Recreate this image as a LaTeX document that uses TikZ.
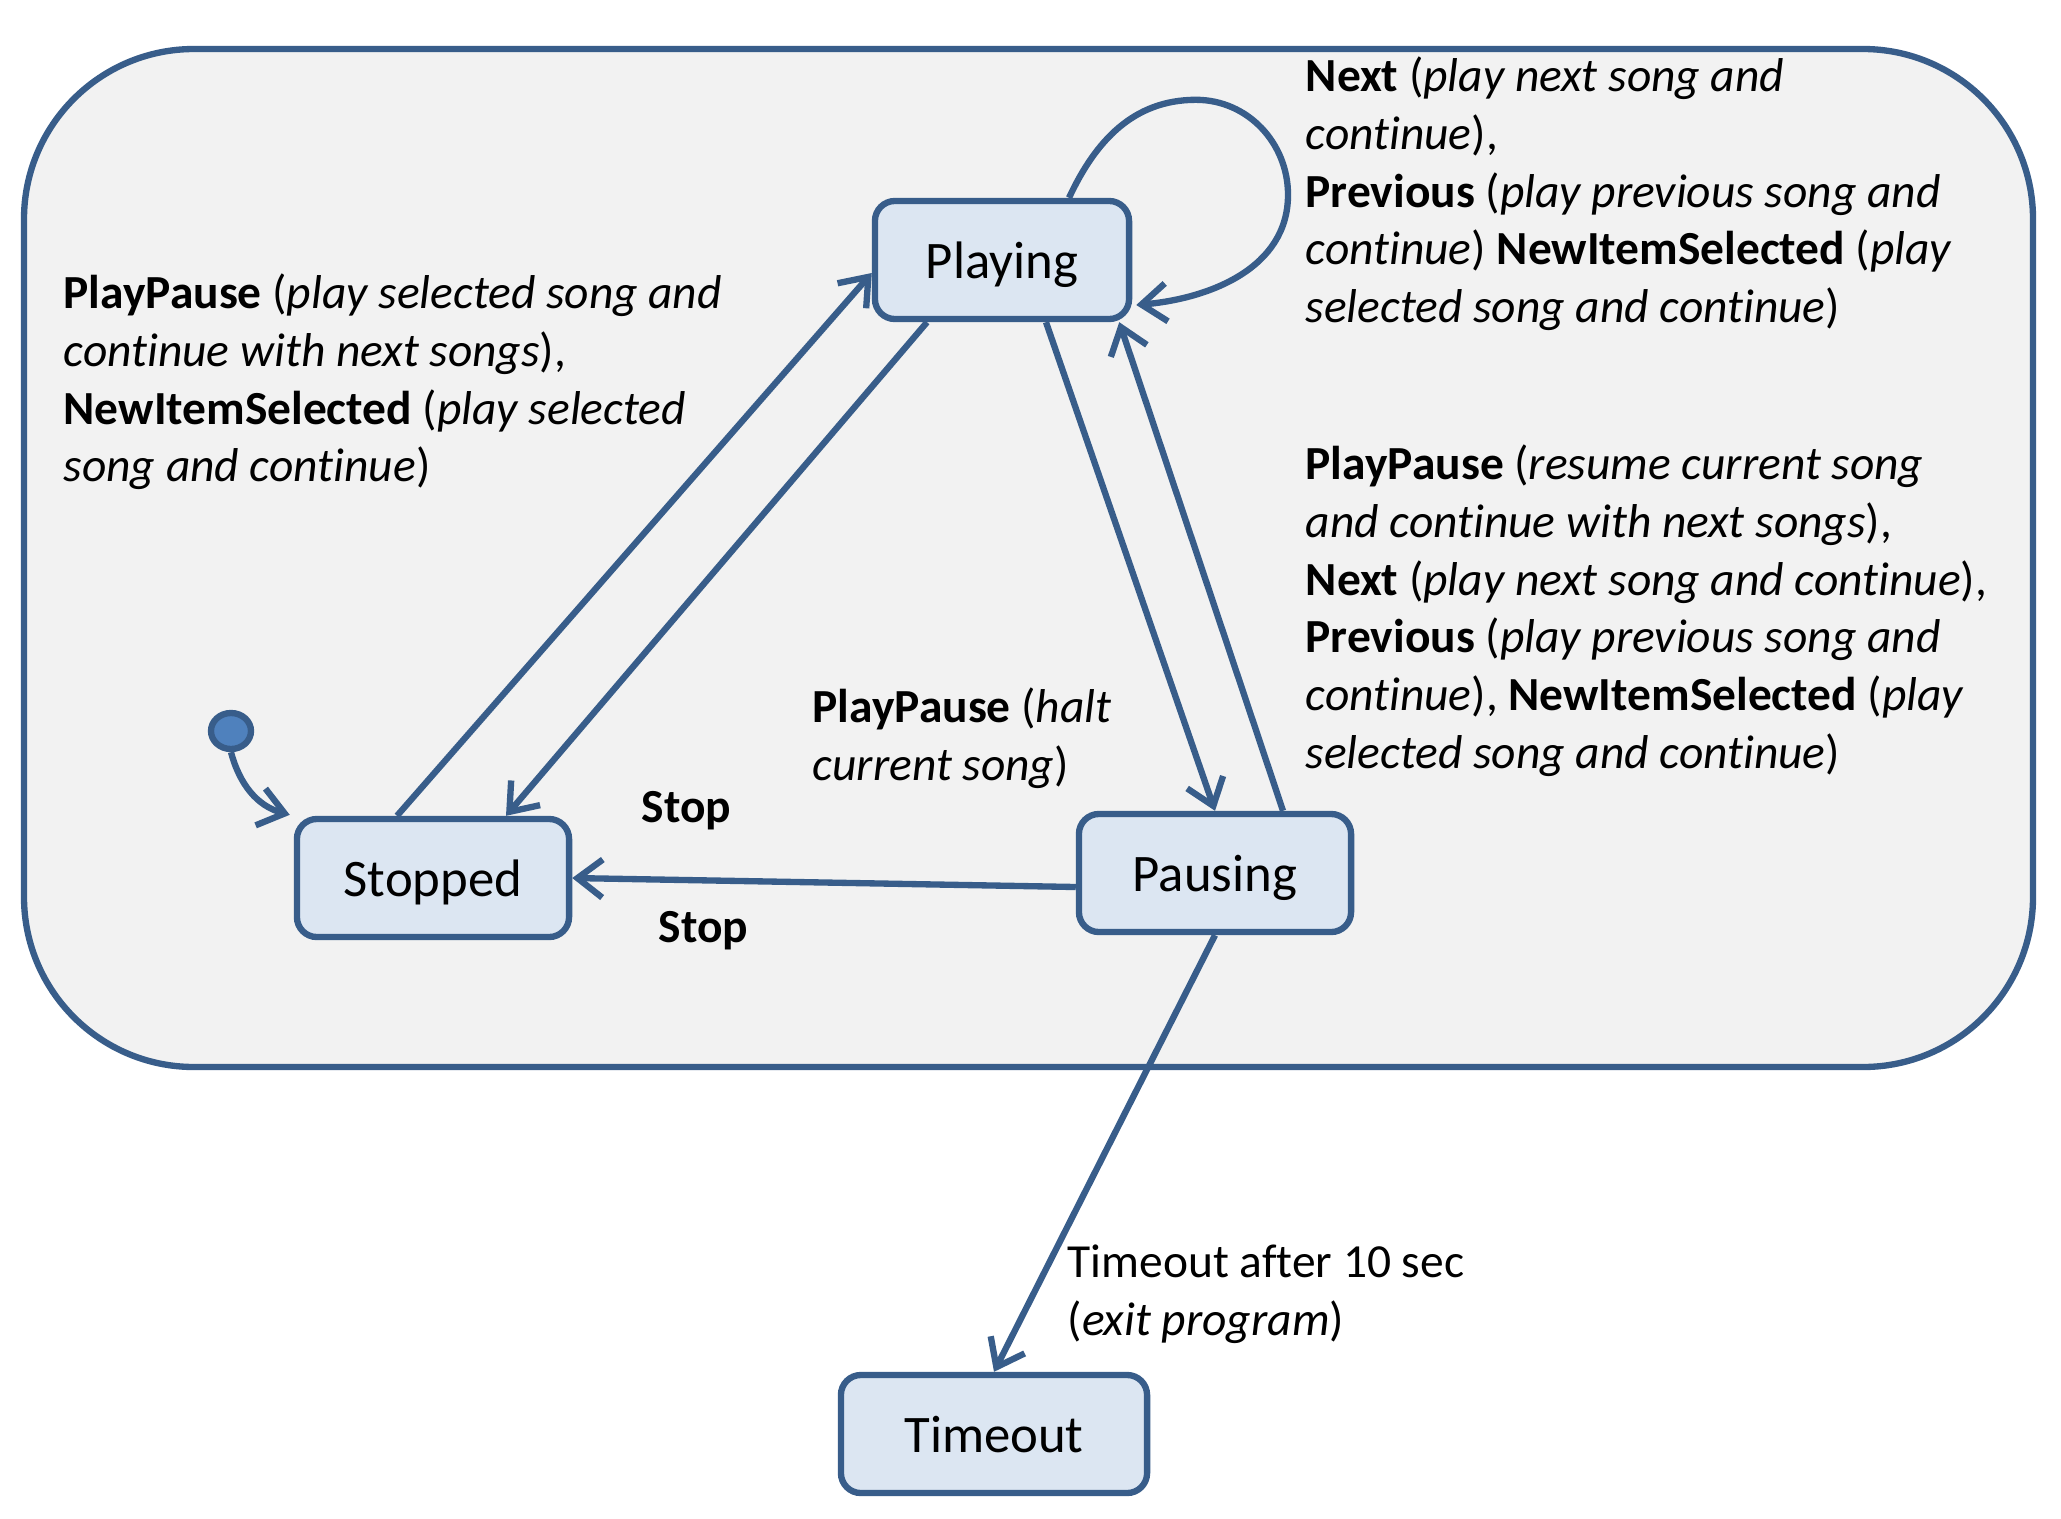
\documentclass[tikz,border=0pt]{standalone}
\usepackage{fontspec}
\setmainfont{Carlito}[Ligatures=NoCommon]
\usetikzlibrary{arrows.meta,shapes.geometric,positioning,calc}
\definecolor{stateline}{RGB}{56,93,138}
\definecolor{statefill}{RGB}{220,230,242}
\definecolor{framefill}{RGB}{242,242,242}
\definecolor{dotfill}{RGB}{79,129,189}
\tikzset{
    state/.style={
        rectangle,
        rounded corners=0.2cm,
        draw=stateline,
        fill=statefill,
        line width=1.8pt,
        minimum height=1.18cm,
        text depth=0pt,
        text centered,
        font=\fontsize{15}{18}\selectfont
    },
    trans/.style={
        -{Straight Barb[length=2.5mm,width=3.8mm]},
        draw=stateline,
        line width=1.8pt
    },
    lbl/.style={
        anchor=north west,
        inner sep=0pt,
        align=left,
        font=\fontsize{13.5}{16.45}\selectfont
    }
}

\begin{document}
\begin{tikzpicture}[x=0.01cm,y=-0.01cm]
\useasboundingbox (0,0) rectangle (2061,1518);
\fill[white] (0,0) rectangle (2061,1518);

% Frame
\draw[draw=stateline, fill=framefill, line width=1.8pt, rounded corners=1.7cm] (24,49) rectangle (2033,1067);

% States
\node[state, minimum width=2.54cm] (playing) at (1002,260) {Playing};
\node[state, minimum width=2.72cm] (stopped) at (433,878) {Stopped};
\node[state, minimum width=2.72cm] (pausing) at (1215,873) {Pausing};
\node[state, minimum width=3.06cm] (timeout) at (994,1434) {Timeout};

% Initial
\node[ellipse, draw=stateline, fill=dotfill, line width=1.8pt, minimum width=0.4cm, minimum height=0.36cm, inner sep=0pt] (init) at (231,731) {};

% Labels
\node[lbl] (loop-lbl) at (1305,56) {\textbf{Next} (\textit{play next song and}\\
    \textit{continue}),\\
    \textbf{Previous} (\textit{play previous song and}\\
    \textit{continue}) \textbf{NewItemSelected} (\textit{play}\\
    \textit{selected song and continue})};
\node[lbl] (start-lbl) at (63,273) {\textbf{PlayPause} (\textit{play selected song and}\\
    \textit{continue with next songs}),\\
    \textbf{NewItemSelected} (\textit{play selected}\\
    \textit{song and continue})};
\node[lbl] (resume-lbl) at (1305,444) {\textbf{PlayPause} (\textit{resume current song}\\
    \textit{and continue with next songs}),\\
    \textbf{Next} (\textit{play next song and continue}),\\
    \textbf{Previous} (\textit{play previous song and}\\
    \textit{continue}), \textbf{NewItemSelected} (\textit{play}\\
    \textit{selected song and continue})};
\node[lbl] (halt-lbl) at (812,687) {\textbf{PlayPause} (\textit{halt}\\
    \textit{current song})};
\node[lbl] (stop-lbl1) at (641,791) {\textbf{Stop}};
\node[lbl] (stop-lbl2) at (658,911) {\textbf{Stop}};
\node[lbl] (exit-lbl) at (1067,1244) {Timeout after 10 sec\\
    (\textit{exit program})};

% Transitions
\draw[trans] (init.south) to[out=-75,in=165] ($(stopped.north west)+(-4,-1)$);
\draw[trans] ($(stopped.north)+(-36,0)$) -- ($(playing.west)+(0,13)$);
\draw[trans] ($(playing.south)+(-75,0)$) -- ($(stopped.north)+(73,0)$);
\draw[trans] ($(playing.south)+(44,0)$) -- (pausing.north);
\draw[trans] ($(pausing.north)+(68,0)$) -- ($(playing.south east)+(-13,0)$);
\draw[trans] ($(pausing.west)+(0,14)$) -- (stopped.east);
\draw[trans] (pausing.south) -- (timeout.north);
\draw[trans] ($(playing.north)+(67,0)$) to[out=65,in=180] ++(127,-98) to[out=0,in=90] ++(92,95) to[out=-90,in=5] ($(playing.east)+(4,45)$);
\end{tikzpicture}
\end{document}
